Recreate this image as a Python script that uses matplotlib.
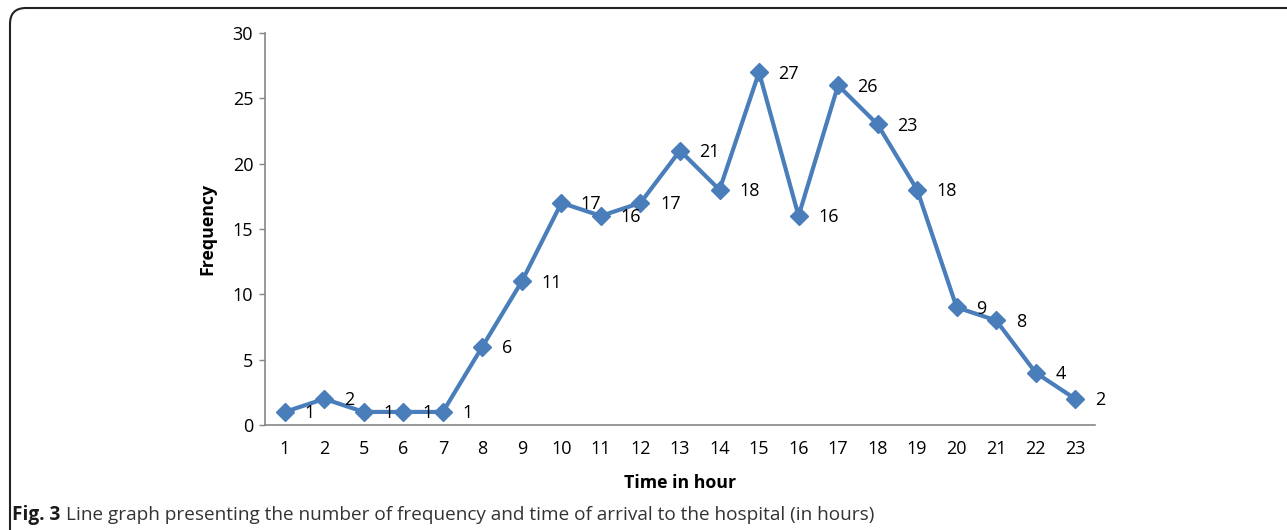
import matplotlib.pyplot as plt
from matplotlib.patches import FancyBboxPatch

# arrival hour categories and counts
hours = ["1", "2", "5", "6", "7", "8", "9", "10", "11", "12", "13",
         "14", "15", "16", "17", "18", "19", "20", "21", "22", "23"]
counts = [1, 2, 1, 1, 1, 6, 11, 17, 16, 17, 21, 18, 27, 16, 26, 23, 18, 9, 8, 4, 2]
yticks = [0, 5, 10, 15, 20, 25, 30]

plt.rcParams['font.family'] = ['Open Sans', 'DejaVu Sans']
line_color = "#4a7ebb"
axis_color = "#868686"

fig = plt.figure(figsize=(12.87, 5.30), dpi=100)
ax = fig.add_axes([265 / 1287, 1 - 425 / 530, 830 / 1287, 392 / 530])

pos = list(range(len(hours)))
ax.plot(pos, counts, color=line_color, lw=3, marker="D", markersize=9.5,
        markeredgecolor=line_color, markerfacecolor=line_color, clip_on=False, zorder=3)

for x, v in zip(pos, counts):
    ax.annotate(str(v), (x, v), xytext=(14, -1), textcoords="offset points",
                ha="left", va="center", fontsize=13, color="black")

ax.set_xlim(-0.5, len(hours) - 0.5)
ax.set_ylim(0, 30)
ax.set_xticks(pos)
ax.set_xticklabels(hours)
ax.set_yticks(yticks)
ax.tick_params(axis="x", length=0, pad=11, labelsize=13)
ax.tick_params(axis="y", length=4.5, width=1, color=axis_color, pad=4, labelsize=13)

for side in ["top", "right"]:
    ax.spines[side].set_visible(False)
for side in ["left", "bottom"]:
    ax.spines[side].set_color(axis_color)
    ax.spines[side].set_linewidth(1.2)

ax.set_xlabel("Time in hour", fontsize=12.8, fontweight="bold", labelpad=11)
ax.set_ylabel("Frequency", fontsize=12.8, fontweight="bold", labelpad=12)

# rounded frame around the figure panel
frame = FancyBboxPatch((0.10, -1.0), 14.0, 6.22, boxstyle="round,pad=0,rounding_size=0.16",
                       transform=fig.dpi_scale_trans, fill=False, edgecolor="#222222",
                       linewidth=1.5, clip_on=False)
fig.patches.append(frame)

# caption
cap_y = 1 - 515 / 530
t1 = fig.text(12 / 1287, cap_y, "Fig. 3", fontsize=13.7, fontweight="bold",
              color="#1a1a1a", va="center", ha="left")
fig.canvas.draw()
bb = t1.get_window_extent(renderer=fig.canvas.get_renderer())
fig.text((bb.x1 + 6) / 1287, cap_y,
         "Line graph presenting the number of frequency and time of arrival to the hospital (in hours)",
         fontsize=13.7, color="#333333", va="center", ha="left")

fig.savefig("out.png", dpi=100)
